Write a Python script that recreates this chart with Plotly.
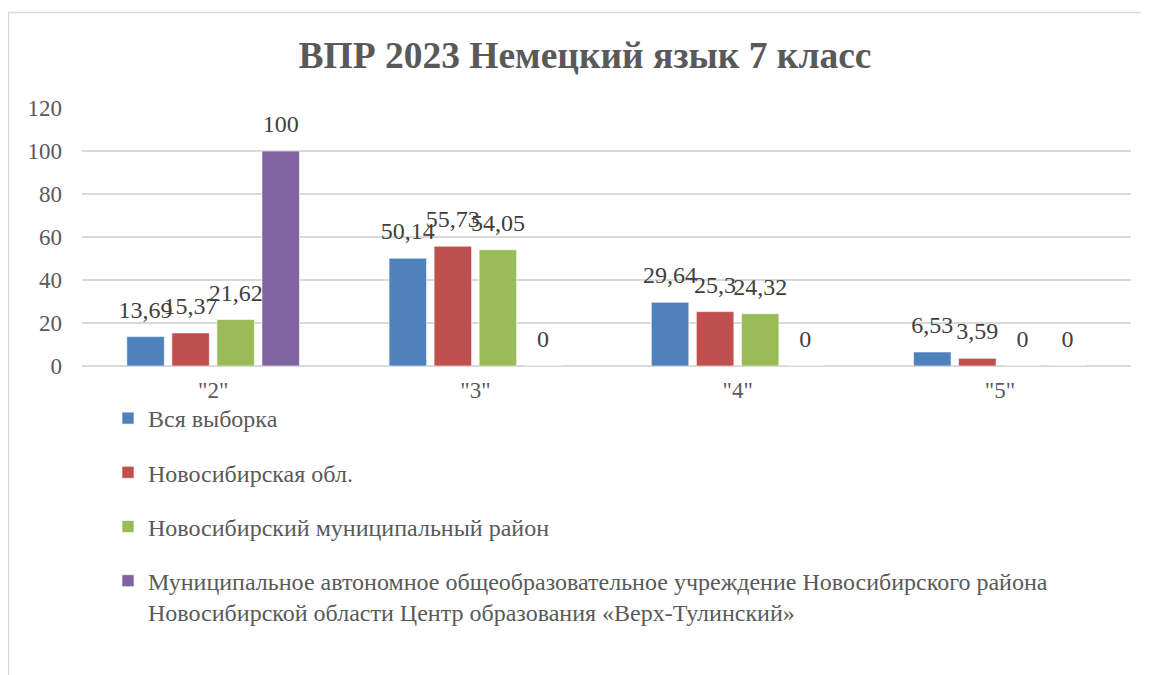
import plotly.graph_objects as go

categories = ['"2"', '"3"', '"4"', '"5"']
series_names = [
    "Вся выборка",
    "Новосибирская обл.",
    "Новосибирский муниципальный район",
    "Муниципальное автономное общеобразовательное учреждение Новосибирского района<br>Новосибирской области Центр образования «Верх-Тулинский»",
]
vals_all = [13.69, 50.14, 29.64, 6.53]
vals_obl = [15.37, 55.73, 25.3, 3.59]
vals_rayon = [21.62, 54.05, 24.32, 0]
vals_school = [100, 0, 0, 0]
colors = ["#4F81BD", "#C0504D", "#9BBB59", "#8064A2"]

series_vals = [vals_all, vals_obl, vals_rayon, vals_school]

def fmt(v):
    s = f"{v:.2f}".rstrip("0").rstrip(".")
    return s.replace(".", ",")

# page body has an 8px margin, so figure coords = screen coords - 8
OFF = 8
W, H = 1149, 675
L, R, T, B = 82 - OFF, 26, 108 - OFF, 317
SERIF = "Liberation Serif, Times New Roman, serif"

fig = go.Figure()
for i, (name, vals, col) in enumerate(zip(series_names, series_vals, colors)):
    fig.add_trace(go.Bar(
        x=categories, y=vals, name=name,
        marker=dict(color=col, line=dict(color="rgba(255,255,255,0.6)", width=1)),
        legendgroup=f"g{i}", offsetgroup=f"o{i}", hoverinfo="skip",
    ))
for i, (name, vals, col) in enumerate(zip(series_names, series_vals, colors)):
    fig.add_trace(go.Scatter(
        x=categories, y=vals, mode="markers+text",
        marker=dict(size=19, color="rgba(0,0,0,0)"),
        text=[fmt(v) for v in vals], textposition="top center",
        textfont=dict(family=SERIF, size=24, color="#404040"),
        cliponaxis=False, showlegend=False, offsetgroup=f"o{i}", hoverinfo="skip",
    ))

pw = W - L - R
ph = H - T - B
def px2x(px):
    return (px - OFF - L) / pw
def py2y(py):
    return (H - B - (py - OFF)) / ph

fig.update_layout(
    width=W, height=H,
    margin=dict(l=L, r=R, t=T, b=B, autoexpand=False),
    paper_bgcolor="white", plot_bgcolor="white",
    barmode="group", bargap=0.313, bargroupgap=0.167,
    scattermode="group", scattergap=0.313,
    font=dict(family=SERIF, size=23, color="#595959"),
    title=dict(text="<b>ВПР 2023 Немецкий язык 7 класс</b>",
               x=(585 - OFF) / W, xanchor="center", y=1 - (55 - OFF) / H, yanchor="middle",
               font=dict(family=SERIF, size=37.5, color="#595959")),
    xaxis=dict(showgrid=False, showline=False, ticks="", ticklabelstandoff=8,
               tickfont=dict(family=SERIF, size=23, color="#595959")),
    yaxis=dict(range=[0, 120], dtick=20, showgrid=True, gridcolor="#D9D9D9", gridwidth=1.5,
               zeroline=True, zerolinecolor="#D9D9D9", zerolinewidth=1.5,
               ticks="", ticklabelstandoff=19, tickfont=dict(family=SERIF, size=23, color="#595959")),
    showlegend=True,
    legend=dict(xref="container", yref="container", x=(108 - OFF) / W, xanchor="left",
                y=1 - (396 - OFF) / H, yanchor="top", traceorder="grouped", tracegroupgap=20,
                valign="top", font=dict(family=SERIF, size=24, color="#595959"),
                bgcolor="rgba(0,0,0,0)", itemclick=False),
    shapes=[dict(type="rect", xref="paper", yref="paper",
                 x0=px2x(8.5), x1=px2x(1170), y0=py2y(12.5), y1=py2y(700),
                 line=dict(color="#D9D9D9", width=1.5), fillcolor="rgba(0,0,0,0)", layer="below")],
)

fig.write_html("out.html")
